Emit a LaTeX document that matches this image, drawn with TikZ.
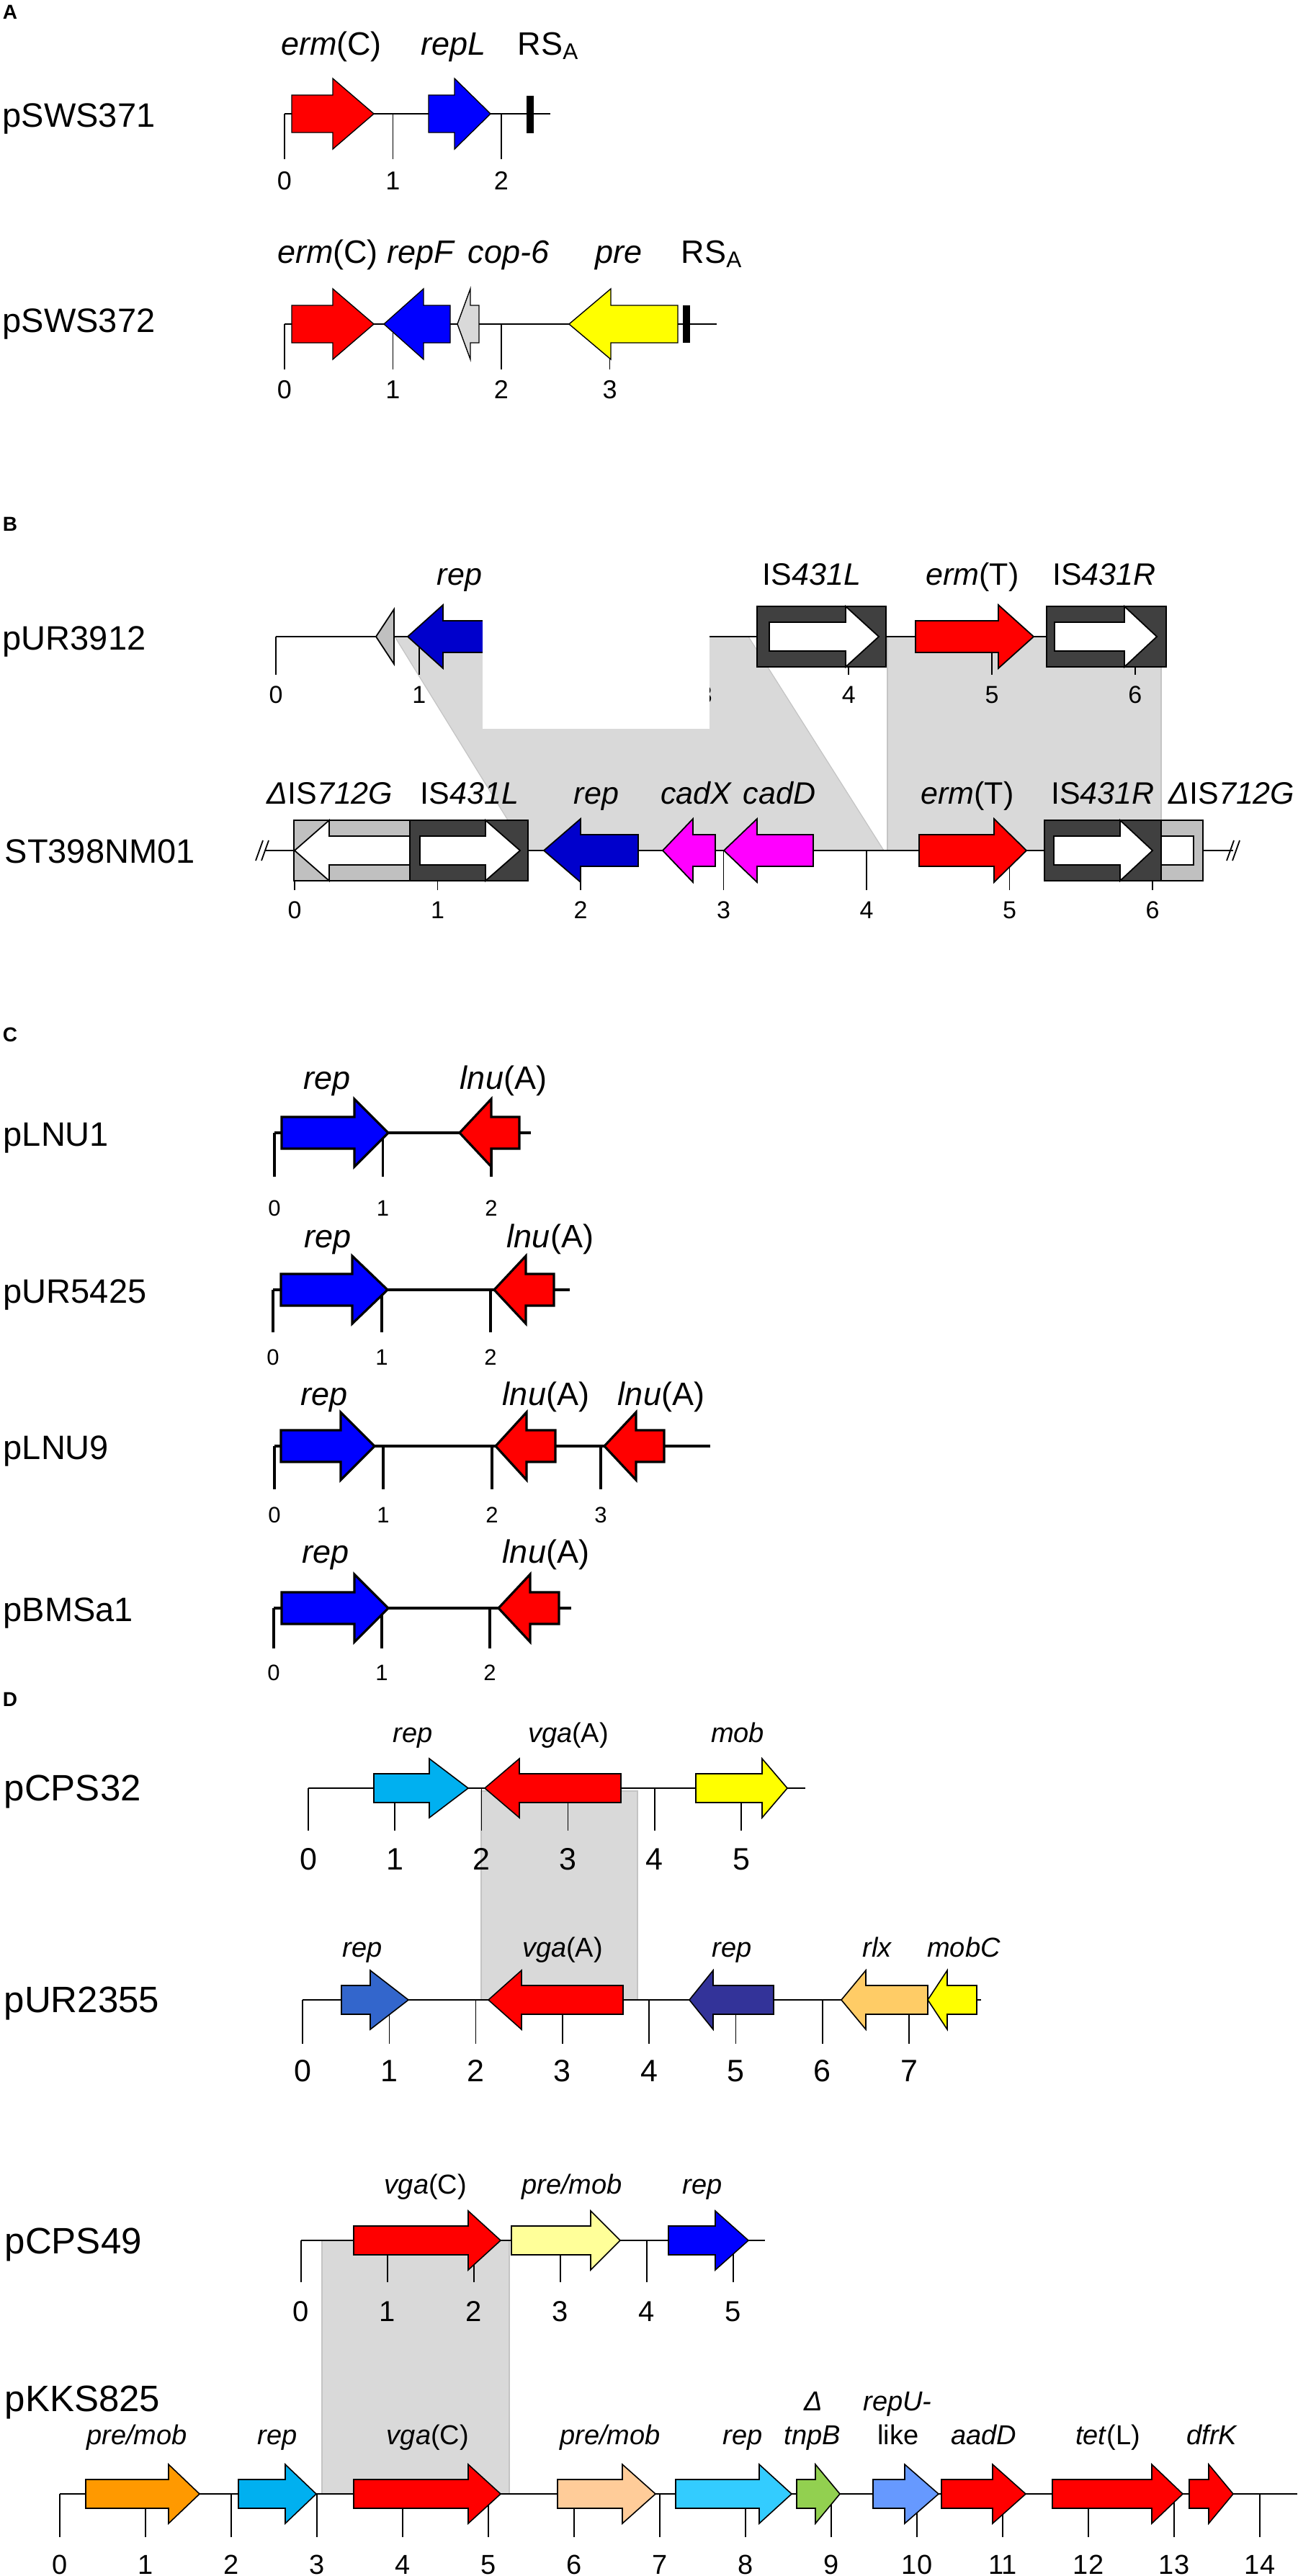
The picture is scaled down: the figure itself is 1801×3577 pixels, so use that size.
\documentclass[tikz,border=0pt]{standalone}
\usepackage{fontspec}
\setmainfont{Liberation Sans}

\definecolor{gred}{HTML}{FF0000}
\definecolor{gblue}{HTML}{0000FF}
\definecolor{gdblue}{HTML}{0000CC}
\definecolor{gmagenta}{HTML}{FF00FF}
\definecolor{gyellow}{HTML}{FFFF00}
\definecolor{gpale}{HTML}{D9D9D9}
\definecolor{isdark}{HTML}{404040}
\definecolor{islight}{HTML}{C0C0C0}
\definecolor{shadegrey}{HTML}{D9D9D9}
\definecolor{shadeedge}{HTML}{C4C4C4}
\definecolor{gcyan}{HTML}{00B0F0}
\definecolor{gmidblue}{HTML}{3366CC}
\definecolor{gnavy}{HTML}{333399}
\definecolor{grlx}{HTML}{FFCC66}
\definecolor{gcream}{HTML}{FFFF99}
\definecolor{gorange}{HTML}{FF9900}
\definecolor{gpeach}{HTML}{FFCC99}
\definecolor{gsky}{HTML}{33CCFF}
\definecolor{ggreen}{HTML}{92D050}
\definecolor{gcorn}{HTML}{6699FF}

% per panel settings
\newcommand{\gbh}{26}
\newcommand{\ghh}{49}
\newcommand{\genelw}{0.35pt}
\newcommand{\genefont}{\fontsize{11.25}{13}\selectfont}
\newcommand{\kbfont}{\fontsize{9}{10}\selectfont}
\newcommand{\seqfont}{\fontsize{11.75}{13}\selectfont}

\tikzset{
  gene/.style={draw=black, line width=\genelw, line join=miter},
  backbone/.style={line width=\genelw},
  scaleline/.style={line width=\genelw},
  isframe/.style={draw=black, line width=\genelw},
  shade/.style={fill=shadegrey, draw=shadeedge, line width=0.3pt},
  panel/.style={font=\fontsize{7}{8}\selectfont\bfseries, anchor=base west, inner sep=0pt},
  seqname/.style={font=\seqfont, anchor=base west, inner sep=0pt},
  genelbl/.style={font=\genefont, anchor=base, inner sep=0pt},
  kbnum/.style={font=\kbfont, anchor=base, inner sep=0pt}
}

% gene arrow: fill, tail, head base, tip, y
\newcommand{\genearrow}[5]{%
  \draw[gene, fill=#1] (#2,{#5-\gbh}) -- (#3,{#5-\gbh}) -- (#3,{#5-\ghh}) -- (#4,#5)
    -- (#3,{#5+\ghh}) -- (#3,{#5+\gbh}) -- (#2,{#5+\gbh}) -- cycle;}
% white arrow inside an IS box: tail, head base, tip, y
\newcommand{\isarrow}[4]{%
  \draw[gene, fill=white] (#1,{#4-20}) -- (#2,{#4-20}) -- (#2,{#4-42}) -- (#3,#4)
    -- (#2,{#4+42}) -- (#2,{#4+20}) -- (#1,{#4+20}) -- cycle;}
% kb scale: prefix, x0, unit, y, tick end, last, label baseline
\newcommand{\kbscale}[7]{%
  \foreach \tk in {0,...,#6}{
    \draw[scaleline] ({#2+\tk*#3},#4) -- ({#2+\tk*#3},#5);
    \node[kbnum] (#1\tk) at ({#2+\tk*#3},#7) {\tk};
  }}

\begin{document}
\begin{tikzpicture}[x=0.25pt,y=0.25pt,yscale=-1,xscale=1]
\useasboundingbox (0,0) rectangle (1801,3577);

%%%%%%%%%%%%%%%%%%%% A
\node[panel] (lblA) at (3,26) {A};

%pSWS371
\node[seqname] (sws371) at (3,176) {pSWS371};
\kbscale{aa-}{395}{150.5}{158}{221}{2}{263}
\draw[backbone] (395,158) -- (764,158);
\genearrow{gred}{405}{462}{519}{158}
\genearrow{gblue}{595}{631}{681}{158}
\fill (731,133) rectangle (741,185);
% Text Node
\node[genelbl] (aaerm) at (460,76) {\textit{erm}(C)};
\node[genelbl] (aarep) at (630,76) {\textit{repL}};
\node[genelbl, anchor=base west] (aars) at (718,76) {RS\textsubscript{A}};

%pSWS372
\node[seqname] (sws372) at (3,461) {pSWS372};
\kbscale{ab-}{395}{150.5}{450}{513}{3}{553}
\draw[backbone] (395,450) -- (995,450);
\genearrow{gred}{405}{462}{519}{450}
\genearrow{gblue}{625}{588}{533}{450}
\genearrow{gpale}{665}{653}{635}{450}
\genearrow{gyellow}{941}{848}{790}{450}
\fill (948,424) rectangle (958,476);
% Text Node
\node[genelbl] (aberm) at (455,365) {\textit{erm}(C)};
\node[genelbl] (abrep) at (585,365) {\textit{repF}};
\node[genelbl] (abcop) at (706,365) {\textit{cop-6}};
\node[genelbl] (abpre) at (859,365) {\textit{pre}};
\node[genelbl, anchor=base west] (abrs) at (945,365) {RS\textsubscript{A}};

%%%%%%%%%%%%%%%%%%%% B
\renewcommand{\gbh}{22}
\renewcommand{\ghh}{44}
\renewcommand{\genelw}{0.45pt}
\renewcommand{\genefont}{\fontsize{10.75}{12}\selectfont}
\renewcommand{\kbfont}{\fontsize{8.5}{10}\selectfont}
\node[panel] (lblB) at (3,737) {B};

%Shape: shaded homology
\draw[shade] (548,884) -- (1039,884) -- (1227,1181) -- (731,1181) -- cycle;
\draw[shade] (1232,884) rectangle (1612,1181);

%pUR3912
\node[seqname] (ur3912) at (3,902) {pUR3912};
\kbscale{ba-}{383}{198.8}{884}{937}{6}{976}
\draw[backbone] (383,884) -- (1619,884);
\draw[gene, fill=islight] (522,884) -- (547,846) -- (547,922) -- cycle;
\genearrow{gdblue}{700}{615}{566}{884}
\draw[isframe, fill=isdark] (1051,842) rectangle (1230,926);
\isarrow{1068}{1174}{1220}{884}
\genearrow{gred}{1271}{1386}{1435}{884}
\draw[isframe, fill=isdark] (1453,842) rectangle (1619,926);
\isarrow{1464}{1561}{1606}{884}
\fill[white] (670,830) rectangle (985,1012);
% Text Node
\node[genelbl] (barep) at (638,812) {\textit{rep}};
\node[genelbl] (bais1) at (1127,812) {IS\textit{431L}};
\node[genelbl] (baerm) at (1350,812) {\textit{erm}(T)};
\node[genelbl] (bais2) at (1533,812) {IS\textit{431R}};

%ST398NM01
\node[seqname] (st398) at (6,1198) {ST398NM01};
\kbscale{bb-}{409}{198.5}{1181}{1236}{6}{1275}
\draw[backbone] (369,1181) -- (1712,1181);
\draw[backbone] (355,1195) -- (365,1167) (363,1195) -- (373,1167);
\draw[backbone] (1703,1195) -- (1713,1167) (1711,1195) -- (1721,1167);
\draw[isframe, fill=islight] (408,1139) rectangle (569,1223);
\isarrow{569}{457}{409}{1181}
\draw[isframe, fill=isdark] (569,1139) rectangle (733,1223);
\isarrow{583}{674}{722}{1181}
\genearrow{gdblue}{886}{806}{755}{1181}
\genearrow{gmagenta}{993}{962}{920}{1181}
\genearrow{gmagenta}{1129}{1051}{1005}{1181}
\genearrow{gred}{1276}{1380}{1425}{1181}
\draw[isframe, fill=isdark] (1450,1139) rectangle (1612,1223);
\isarrow{1463}{1555}{1600}{1181}
\draw[isframe, fill=islight] (1612,1139) rectangle (1670,1223);
\draw[isframe, fill=white] (1612,1161) rectangle (1657,1201);
% Text Node
\node[genelbl] (bbdel1) at (458,1116) {\textit{Δ}IS\textit{712G}};
\node[genelbl] (bbis1) at (652,1116) {IS\textit{431L}};
\node[genelbl] (bbrep) at (828,1116) {\textit{rep}};
\node[genelbl] (bbcadx) at (967,1116) {\textit{cadX}};
\node[genelbl] (bbcadd) at (1082,1116) {\textit{cadD}};
\node[genelbl] (bberm) at (1343,1116) {\textit{erm}(T)};
\node[genelbl] (bbis2) at (1531,1116) {IS\textit{431R}};
\node[genelbl] (bbdel2) at (1710,1116) {\textit{Δ}IS\textit{712G}};

%%%%%%%%%%%%%%%%%%%% C
\renewcommand{\gbh}{22}
\renewcommand{\ghh}{47}
\renewcommand{\genelw}{0.8pt}
\renewcommand{\genefont}{\fontsize{11.25}{13}\selectfont}
\renewcommand{\kbfont}{\fontsize{7.75}{9}\selectfont}
\node[panel] (lblC) at (3,1446) {C};

%pLNU1
\node[seqname] (lnu1) at (4,1591) {pLNU1};
\kbscale{ca-}{381}{150.5}{1573}{1634}{2}{1688}
\draw[backbone] (381,1573) -- (737,1573);
\genearrow{gblue}{391}{492}{539}{1573}
\genearrow{gred}{721}{682}{638}{1573}
\node[genelbl] (carep) at (454,1512) {\textit{rep}};
\node[genelbl] (calnu) at (699,1512) {\textit{lnu}(A)};

%pUR5425
\node[seqname] (ur5425) at (4,1809) {pUR5425};
\kbscale{cb-}{379}{151}{1791}{1850}{2}{1895}
\draw[backbone] (379,1791) -- (791,1791);
\genearrow{gblue}{390}{489}{538}{1791}
\genearrow{gred}{769}{730}{686}{1791}
\node[genelbl] (cbrep) at (455,1732) {\textit{rep}};
\node[genelbl] (cblnu) at (764,1732) {\textit{lnu}(A)};

%pLNU9
\node[seqname] (lnu9) at (4,2026) {pLNU9};
\kbscale{cc-}{381}{151}{2008}{2068}{3}{2114}
\draw[backbone] (381,2008) -- (986,2008);
\genearrow{gblue}{390}{473}{520}{2008}
\genearrow{gred}{771}{731}{688}{2008}
\genearrow{gred}{922}{883}{839}{2008}
\node[genelbl] (ccrep) at (450,1951) {\textit{rep}};
\node[genelbl] (cclnu1) at (758,1951) {\textit{lnu}(A)};
\node[genelbl] (cclnu2) at (918,1951) {\textit{lnu}(A)};

%pBMSa1
\node[seqname] (bmsa1) at (4,2251) {pBMSa1};
\kbscale{cd-}{380}{150}{2233}{2289}{2}{2333}
\draw[backbone] (380,2233) -- (793,2233);
\genearrow{gblue}{391}{492}{539}{2233}
\genearrow{gred}{776}{736}{692}{2233}
\node[genelbl] (cdrep) at (452,2170) {\textit{rep}};
\node[genelbl] (cdlnu) at (758,2170) {\textit{lnu}(A)};

%%%%%%%%%%%%%%%%%%%% D
\renewcommand{\gbh}{20}
\renewcommand{\ghh}{41}
\renewcommand{\genelw}{0.4pt}
\renewcommand{\genefont}{\fontsize{9.5}{11}\selectfont}
\renewcommand{\kbfont}{\fontsize{10.75}{12}\selectfont}
\renewcommand{\seqfont}{\fontsize{12.75}{14}\selectfont}
\node[panel] (lblD) at (3,2369) {D};

%Shape: shaded homology
\draw[shade] (668,2487) rectangle (885,2777);
\draw[shade] (447,3111) rectangle (707,3463);

%pCPS32
\node[seqname] (cps32) at (5,2500) {pCPS32};
\kbscale{da-}{428}{120.2}{2483}{2542}{5}{2596}
\draw[backbone] (428,2483) -- (1118,2483);
\genearrow{gcyan}{519}{596}{650}{2483}
\genearrow{gred}{862}{721}{673}{2483}
\genearrow{gyellow}{966}{1058}{1093}{2483}
\node[genelbl] (darep) at (573,2419) {\textit{rep}};
\node[genelbl] (davga) at (789,2419) {\textit{vga}(A)};
\node[genelbl] (damob) at (1024,2419) {\textit{mob}};

%pUR2355
\node[seqname] (ur2355) at (5,2794) {pUR2355};
\kbscale{db-}{420}{120.3}{2777}{2838}{7}{2890}
\draw[backbone, line width=0.7pt] (420,2777) -- (1362,2777);
\genearrow{gmidblue}{474}{514}{567}{2777}
\genearrow{gred}{865}{724}{678}{2777}
\genearrow{gnavy}{1074}{990}{957}{2777}
\genearrow{grlx}{1288}{1202}{1168}{2777}
\genearrow{gyellow}{1356}{1315}{1288}{2777}
\node[genelbl] (dbrep1) at (503,2717) {\textit{rep}};
\node[genelbl] (dbvga) at (781,2717) {\textit{vga}(A)};
\node[genelbl] (dbrep2) at (1016,2717) {\textit{rep}};
\node[genelbl] (dbrlx) at (1218,2717) {\textit{rlx}};
\node[genelbl] (dbmob) at (1338,2717) {\textit{mobC}};

%pCPS49
\renewcommand{\kbfont}{\fontsize{10}{12}\selectfont}
\node[seqname] (cps49) at (6,3129) {pCPS49};
\kbscale{dc-}{418}{120}{3111}{3169}{5}{3223}
\draw[backbone] (418,3111) -- (1062,3111);
\genearrow{gred}{491}{650}{695}{3111}
\genearrow{gcream}{710}{820}{861}{3111}
\genearrow{gblue}{928}{993}{1039}{3111}
\node[genelbl] (dcvga) at (591,3046) {\textit{vga}(C)};
\node[genelbl] (dcpre) at (794,3046) {\textit{pre/mob}};
\node[genelbl] (dcrep) at (975,3046) {\textit{rep}};

%pKKS825
\renewcommand{\kbfont}{\fontsize{9.5}{11}\selectfont}
\node[seqname] (kks825) at (6,3348) {pKKS825};
\kbscale{dd-}{83}{119}{3463}{3523}{14}{3574}
\draw[backbone] (83,3463) -- (1801,3463);
\genearrow{gorange}{119}{234}{277}{3463}
\genearrow{gcyan}{331}{396}{439}{3463}
\genearrow{gred}{491}{650}{695}{3463}
\genearrow{gpeach}{774}{864}{910}{3463}
\genearrow{gsky}{938}{1054}{1099}{3463}
\genearrow{ggreen}{1106}{1132}{1166}{3463}
\genearrow{gcorn}{1212}{1256}{1303}{3463}
\genearrow{gred}{1307}{1378}{1424}{3463}
\genearrow{gred}{1461}{1599}{1642}{3463}
\genearrow{gred}{1651}{1678}{1712}{3463}
% Text Node
\node[genelbl] (ddpre1) at (190,3394) {\textit{pre/mob}};
\node[genelbl] (ddrep1) at (385,3394) {\textit{rep}};
\node[genelbl] (ddvga) at (594,3394) {\textit{vga}(C)};
\node[genelbl] (ddpre2) at (847,3394) {\textit{pre/mob}};
\node[genelbl] (ddrep2) at (1031,3394) {\textit{rep}};
\node[genelbl] (dddelta) at (1129,3347) {\textit{Δ}};
\node[genelbl] (ddtnp) at (1128,3394) {\textit{tnpB}};
\node[genelbl] (ddrepu) at (1246,3347) {\textit{repU-}};
\node[genelbl] (ddlike) at (1247,3394) {like};
\node[genelbl] (ddaad) at (1366,3394) {\textit{aadD}};
\node[genelbl] (ddtet) at (1538,3394) {\textit{tet}(L)};
\node[genelbl] (dddfr) at (1683,3394) {\textit{dfrK}};

\end{tikzpicture}
\end{document}
